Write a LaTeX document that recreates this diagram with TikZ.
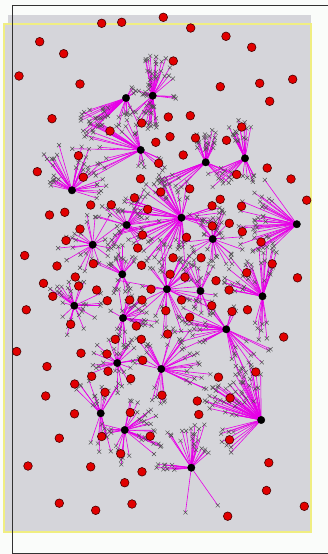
\documentclass[tikz,border=0pt]{standalone}
\usetikzlibrary{shapes.misc}
\definecolor{paper}{RGB}{250,252,250}
\definecolor{field}{RGB}{213,213,218}
\definecolor{framecol}{RGB}{50,50,50}
\definecolor{edgeyellow}{RGB}{240,238,130}
\definecolor{linkcol}{RGB}{232,0,232}
\definecolor{markcol}{RGB}{80,80,80}
\definecolor{dotred}{RGB}{225,0,0}
\definecolor{dotrim}{RGB}{70,0,0}
\tikzset{
  xmark/.style={cross out,draw=markcol,line width=0.45pt,minimum size=3.6pt,inner sep=0pt},
  link/.style={draw=linkcol,line width=0.6pt},
  hubdot/.style={circle,fill=black,draw=black,minimum size=7.4pt,inner sep=0pt},
  reddot/.style={circle,fill=dotred,draw=dotrim,line width=0.6pt,minimum size=8.6pt,inner sep=0pt}
}
\newcommand\fandensity{1.4}
% a fan of client marks around a hub: hub, tag, angle range, radius range, count
% pass 1 places the marks, pass 2 draws the links, pass 3 draws the marks
\newcommand\fanplace[7]{%
  \pgfmathtruncatemacro\fn{round(#7*\fandensity)}%
  \foreach \k in {1,...,\fn}{%
    \pgfmathsetmacro\fa{#3+rnd*(#4-#3)}%
    \pgfmathsetmacro\fr{#5+rnd*(#6-#5)}%
    \coordinate (c-#1#2-\k) at ([shift={(\fa:\fr)}]#1);
  }}
\newcommand\fanlink[7]{%
  \pgfmathtruncatemacro\fn{round(#7*\fandensity)}%
  \foreach \k in {1,...,\fn}{\draw[link] (#1) -- (c-#1#2-\k);}}
\newcommand\fanmark[7]{%
  \pgfmathtruncatemacro\fn{round(#7*\fandensity)}%
  \foreach \k in {1,...,\fn}{\node[xmark] (x-#1#2-\k) at (c-#1#2-\k) {};}}
\newcommand\fanlist{%
\drawfan{h1}{a}{135}{165}{20}{58}{14}
\drawfan{h1}{b}{60}{125}{10}{30}{6}
\drawfan{h1}{c}{290}{330}{8}{16}{3}
\drawfan{h2}{a}{255}{290}{10}{40}{14}
\drawfan{h2}{b}{290}{320}{20}{35}{3}
\drawfan{h2}{c}{-5}{10}{20}{30}{2}
\drawfan{h2}{d}{80}{110}{5}{35}{12}
\drawfan{h2}{e}{110}{140}{10}{30}{5}
\drawfan{h2}{f}{170}{250}{5}{15}{6}
\drawfan{h3}{a}{150}{215}{30}{70}{14}
\drawfan{h3}{b}{215}{260}{15}{35}{6}
\drawfan{h3}{c}{70}{110}{10}{25}{3}
\drawfan{h3}{d}{20}{45}{20}{30}{3}
\drawfan{h4}{a}{240}{300}{12}{35}{14}
\drawfan{h4}{b}{120}{160}{30}{55}{8}
\drawfan{h4}{c}{20}{50}{20}{35}{4}
\drawfan{h5}{a}{240}{290}{15}{40}{12}
\drawfan{h5}{b}{120}{160}{20}{45}{6}
\drawfan{h5}{c}{60}{100}{15}{25}{4}
\drawfan{h6}{a}{230}{260}{30}{48}{6}
\drawfan{h6}{b}{190}{220}{15}{25}{5}
\drawfan{h6}{c}{280}{330}{20}{45}{8}
\drawfan{h6}{d}{340}{380}{25}{40}{5}
\drawfan{h7}{a}{165}{200}{40}{75}{10}
\drawfan{h7}{b}{200}{250}{20}{50}{8}
\drawfan{h7}{c}{110}{160}{30}{60}{10}
\drawfan{h7}{d}{80}{110}{20}{45}{5}
\drawfan{h7}{e}{340}{380}{20}{40}{8}
\drawfan{h7}{f}{250}{290}{15}{40}{4}
\drawfan{h8}{a}{135}{235}{30}{60}{24}
\drawfan{h9}{a}{180}{360}{15}{40}{12}
\drawfan{h9}{b}{0}{180}{15}{35}{8}
\drawfan{h10}{a}{0}{360}{8}{35}{22}
\drawfan{h11}{a}{0}{360}{10}{35}{16}
\drawfan{h12}{a}{200}{340}{10}{30}{12}
\drawfan{h12}{b}{60}{120}{10}{25}{5}
\drawfan{h13}{a}{180}{360}{15}{50}{14}
\drawfan{h13}{b}{0}{180}{15}{50}{10}
\drawfan{h14}{a}{230}{310}{10}{35}{8}
\drawfan{h14}{b}{60}{120}{10}{30}{6}
\drawfan{h15}{a}{190}{290}{15}{50}{24}
\drawfan{h15}{b}{70}{110}{15}{45}{5}
\drawfan{h16}{a}{0}{360}{8}{30}{20}
\drawfan{h17}{a}{200}{340}{10}{30}{10}
\drawfan{h17}{b}{340}{390}{15}{35}{6}
\drawfan{h17}{c}{60}{120}{10}{30}{5}
\drawfan{h18}{a}{150}{210}{20}{55}{12}
\drawfan{h18}{b}{230}{300}{15}{30}{5}
\drawfan{h18}{c}{20}{80}{20}{50}{10}
\drawfan{h19}{a}{0}{360}{8}{30}{20}
\drawfan{h20}{a}{190}{250}{20}{40}{6}
\drawfan{h20}{b}{280}{340}{20}{50}{8}
\drawfan{h20}{c}{340}{390}{25}{50}{8}
\drawfan{h20}{d}{80}{120}{15}{35}{4}
\drawfan{h21}{a}{220}{320}{10}{35}{10}
\drawfan{h21}{b}{70}{110}{15}{40}{5}
\drawfan{h22}{a}{280}{350}{15}{40}{10}
\drawfan{h22}{b}{0}{40}{15}{40}{8}
\drawfan{h22}{c}{80}{120}{15}{35}{4}
\drawfan{h22}{d}{150}{210}{10}{25}{4}
\drawfan{h23}{a}{190}{270}{20}{60}{34}
\drawfan{h23}{b}{130}{170}{20}{45}{6}
\drawfan{h24}{a}{230}{300}{15}{50}{12}
\drawfan{h24}{b}{170}{190}{15}{40}{6}
\drawfan{h24}{c}{97}{98}{45}{46}{1}
\drawfan{h24}{d}{54}{55}{45}{47}{1}
\drawfan{h24}{e}{290}{320}{15}{25}{3}}
\begin{document}
\begin{tikzpicture}[x=1pt,y=-1pt]
\pgfmathsetseed{42}
\useasboundingbox (0,0) rectangle (328,554);
% backdrop, field and frame
\fill[paper] (0,0) rectangle (328,554);
\fill[field] (8,15) rectangle (311,532);
\fill[field] (4,24) rectangle (311,532);
\draw[edgeyellow,line width=1.1pt] (4,24) rectangle (311,532);
\draw[framecol,line width=1pt] (328,5) -- (12,5) -- (12,553) -- (328,553);

% hub positions
\foreach \x/\y [count=\i] in {
  126/98, 152.7/95.7, 140.7/150, 205.7/162.3, 245/158.3, 72/190.3,
  181.5/217.7, 296.8/224.2, 126.7/225, 212.7/239, 92.7/244.7, 122.3/274.3,
  166.9/289.2, 200.5/291, 262.5/296.3, 74.3/305.7, 123/318, 226.3/329.3,
  117.3/363, 161.3/369, 100.7/413.3, 124.7/430, 261.2/420, 191.3/467.7}
  \coordinate (h\i) at (\x,\y);

% client marks and their links to the hubs
\let\drawfan\fanplace \fanlist
\let\drawfan\fanlink  \fanlist
\let\drawfan\fanmark  \fanlist

% hubs
\foreach \i in {1,...,24}
  \node[hubdot] (hub\i) at (h\i) {};

% free-standing sites
\foreach \x/\y [count=\i] in {
  101.7/23.3, 121.7/22.3, 163.3/17.3, 190.7/28, 226/36.3, 251.7/47.3,
  39.7/41.7, 63.7/53.7, 173.3/61, 19/76, 80/84, 220.3/86.7, 259.7/83.3,
  292.7/79.3, 269.7/101.3, 52/118.7, 168.3/117, 190.3/115.7, 141.7/123,
  241.7/127, 110/131, 170/136.7, 195.5/138, 226.5/140.3, 155.8/142.3,
  78.5/155.7, 183.2/155, 158.7/163.3, 236.7/174.5, 267.2/168, 37.3/171.7,
  83.3/177.2, 140.5/178.8, 291/179, 160.8/192, 189.7/188.8, 306.7/200.2,
  134.5/197.8, 220.2/199.3, 90.7/205, 111.3/204.8, 147.7/209.3, 212.1/205.8,
  241.5/206.2, 49.5/215, 64.8/212.3, 80/229, 212.3/226, 229.3/223.3,
  242.3/231.7, 261.1/242, 66/240.5, 142.5/235, 186.5/237.3, 137.7/248,
  24.7/255.5, 57/266, 93.3/263.7, 141.5/265.3, 173.1/257.8, 201.1/257.8,
  272.2/263.8, 75.3/277, 170.1/274.2, 185/277.2, 246.7/272.7, 297.5/277.8,
  43.5/283.3, 78.7/286, 96.7/290, 151/289.2, 216/280.7, 229.1/290,
  52.8/296.3, 107.3/300.7, 129.7/300, 142/300, 181.5/300, 211.8/305.7,
  26.3/309.8, 165.8/310.7, 232/311.5, 247.5/309.8, 70.7/324.3, 136.3/326,
  189.7/317.2, 167.7/334, 115.3/339.3, 141.3/339.3, 283.7/337, 16.7/351.5,
  81/353.2, 107/354, 142.7/360.3, 47/366.5, 108/371.3, 91.7/376.3,
  130.7/378.7, 218.5/377.2, 255.8/372, 74.7/384, 45.7/396, 105/392.3,
  162/395.2, 230.1/398, 197.3/401, 74.5/413.8, 130.3/412.5, 198.8/414.5,
  59.3/438.2, 101.7/436.5, 150.2/436.2, 229.5/439.8, 120.7/453.7, 28/466,
  90.7/466.8, 142/471.8, 268.8/462.7, 124.7/482.7, 266.5/490.5, 59.3/503.2,
  95.7/510.3, 132/504, 304.3/506.3, 227.7/516.2}
  \node[reddot] (r\i) at (\x,\y) {};
\end{tikzpicture}
\end{document}
